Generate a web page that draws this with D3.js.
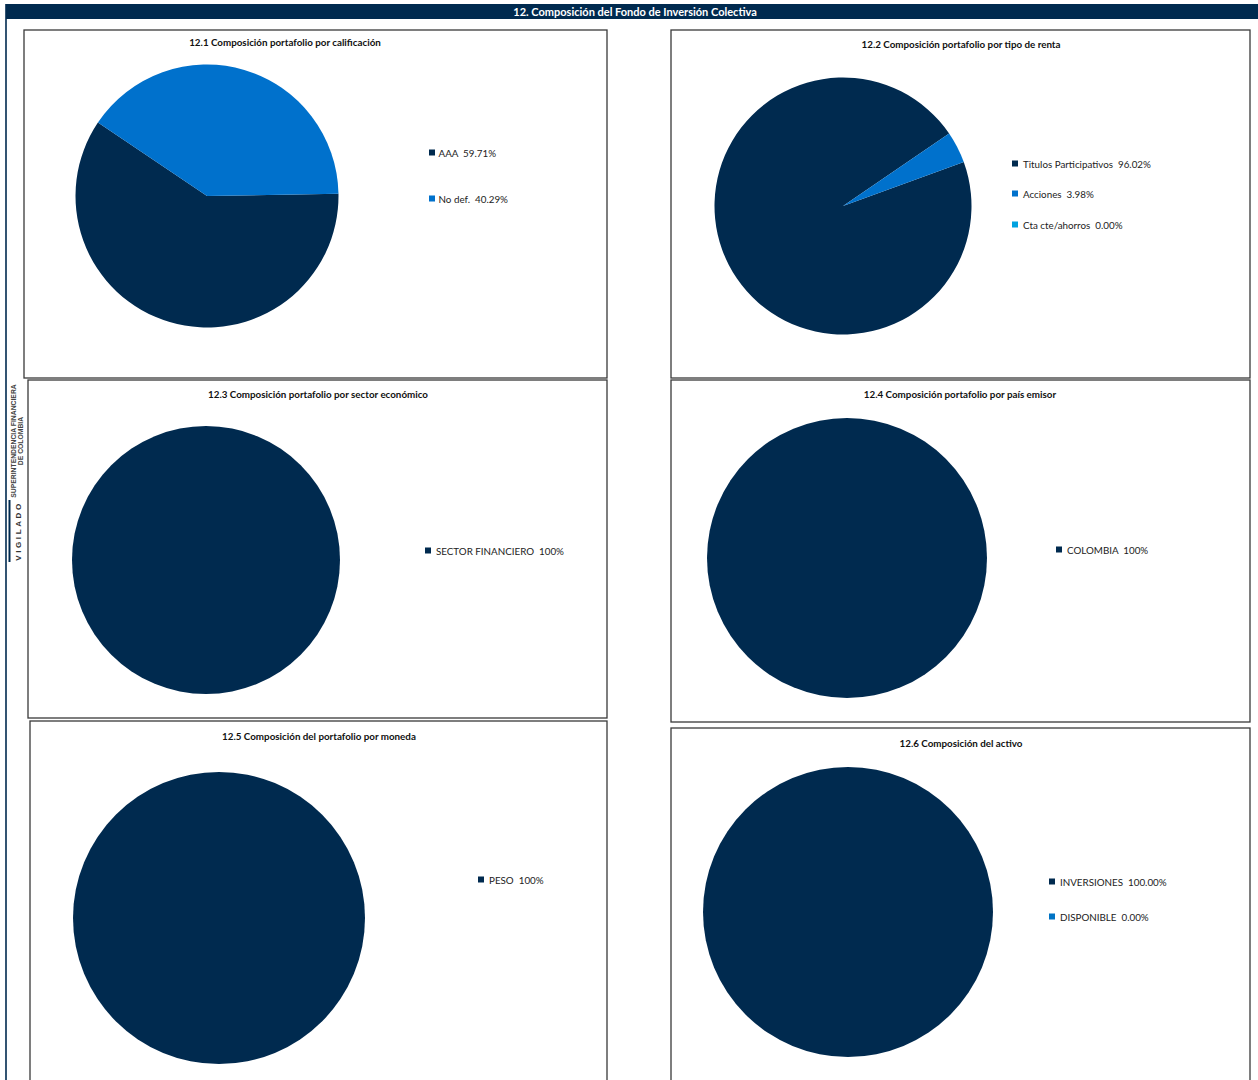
<!DOCTYPE html>
<html>
<head>
<meta charset="utf-8">
<script src="https://cdn.jsdelivr.net/npm/d3@7"></script>
<style>
  html, body { margin: 0; padding: 0; background: #fff; }
  svg { display: block; }
</style>
</head>
<body>
<svg id="chart" width="1258" height="1080"></svg>
<script>
// ---------- DATA ----------
const headerTitle = "12. Composición del Fondo de Inversión Colectiva";
const chartTitles = [
  "12.1 Composición portafolio por calificación",
  "12.2 Composición portafolio por tipo de renta",
  "12.3 Composición portafolio por sector económico",
  "12.4 Composición portafolio por país emisor",
  "12.5 Composición del portafolio por moneda",
  "12.6 Composición del activo"
];
const calificacionLabels = ["AAA", "No def."];
const calificacionValues = [59.71, 40.29];
const rentaLabels = ["Titulos Participativos", "Acciones", "Cta cte/ahorros"];
const rentaValues = [96.02, 3.98, 0.00];
const sectorLabels = ["SECTOR FINANCIERO"];
const sectorValues = [100];
const paisLabels = ["COLOMBIA"];
const paisValues = [100];
const monedaLabels = ["PESO"];
const monedaValues = [100];
const activoLabels = ["INVERSIONES", "DISPONIBLE"];
const activoValues = [100.00, 0.00];
const valueDecimals = [2, 2, 0, 0, 0, 2];

// ---------- STYLE / LAYOUT ----------
const NAVY = "#002a4f";
const BLUE = "#0071cc";
const CYAN = "#00a2e0";
const BLUE2 = "#0073c4";
const FONT = "Lato, 'Open Sans', sans-serif";

const panels = [
  {x: 24, y: 30, w: 583, h: 348, tx: 285, ty: 46, cx: 207, cy: 196, r: 131.5, start: 89,
   lx: 429, ly: [153, 199], colors: [NAVY, BLUE], labels: calificacionLabels, values: calificacionValues},
  {x: 671, y: 30, w: 579, h: 348, tx: 961, ty: 48, cx: 843, cy: 206, r: 128.5, start: 70,
   lx: 1012, ly: [164, 194, 225], colors: [NAVY, BLUE, CYAN], labels: rentaLabels, values: rentaValues},
  {x: 28, y: 380, w: 579, h: 338, tx: 318, ty: 398, cx: 206, cy: 560, r: 134, start: 0,
   lx: 425, ly: [551], colors: [NAVY], labels: sectorLabels, values: sectorValues},
  {x: 671, y: 380, w: 579, h: 342, tx: 960, ty: 398, cx: 847, cy: 558, r: 140, start: 0,
   lx: 1056, ly: [550], colors: [NAVY], labels: paisLabels, values: paisValues},
  {x: 30, y: 721, w: 577, h: 370, tx: 319, ty: 740, cx: 219, cy: 918, r: 146, start: 0,
   lx: 478, ly: [880], colors: [NAVY], labels: monedaLabels, values: monedaValues},
  {x: 671, y: 728, w: 579, h: 370, tx: 961, ty: 747, cx: 848, cy: 912, r: 145, start: 0,
   lx: 1049, ly: [882, 917], colors: [NAVY, BLUE2], labels: activoLabels, values: activoValues}
];

const svg = d3.select("#chart");

// Left navy rule
svg.append("line").attr("x1", 6).attr("x2", 6).attr("y1", 4).attr("y2", 1080)
  .attr("stroke", NAVY).attr("stroke-width", 1.6);

// Header bar
svg.append("rect").attr("x", 6).attr("y", 4).attr("width", 1252).attr("height", 15).attr("fill", NAVY);
svg.append("text").attr("x", 635).attr("y", 15.5).attr("text-anchor", "middle")
  .attr("fill", "#fff").attr("font-family", FONT).attr("font-weight", "bold").attr("font-size", 11)
  .text(headerTitle);

// Vigilado side label
const side = svg.append("g");
side.append("line").attr("x1", 9.5).attr("x2", 9.5).attr("y1", 500).attr("y2", 562)
  .attr("stroke", NAVY).attr("stroke-width", 2);
side.append("text").attr("transform", "translate(20.5,531) rotate(-90)").attr("text-anchor", "middle")
  .attr("font-family", "'Liberation Sans', Arial, sans-serif").attr("font-weight", "bold")
  .attr("font-size", 8).attr("letter-spacing", 2.6).attr("fill", "#333").text("VIGILADO");
side.append("text").attr("transform", "translate(15.5,441) rotate(-90)").attr("text-anchor", "middle")
  .attr("font-family", "'Liberation Sans Narrow', 'Liberation Sans', sans-serif").attr("font-weight", "bold")
  .attr("font-size", 6.8).attr("fill", "#444").text("SUPERINTENDENCIA FINANCIERA");
side.append("text").attr("transform", "translate(23,441) rotate(-90)").attr("text-anchor", "middle")
  .attr("font-family", "'Liberation Sans Narrow', 'Liberation Sans', sans-serif").attr("font-weight", "bold")
  .attr("font-size", 6.8).attr("fill", "#444").text("DE COLOMBIA");

const toRad = d => d * Math.PI / 180;

panels.forEach((p, i) => {
  const g = svg.append("g");
  // panel frame
  g.append("rect").attr("x", p.x).attr("y", p.y).attr("width", p.w).attr("height", p.h)
    .attr("fill", "#fff").attr("stroke", "#3a3a3a").attr("stroke-width", 1.3);
  // title
  g.append("text").attr("x", p.tx).attr("y", p.ty).attr("text-anchor", "middle")
    .attr("font-family", FONT).attr("font-weight", "bold").attr("font-size", 9.8).attr("fill", "#111")
    .text(chartTitles[i]);

  const data = p.labels.map((l, k) => ({label: l, value: p.values[k], color: p.colors[k]}));
  const pie = d3.pie().sort(null).value(d => d.value)
    .startAngle(toRad(p.start)).endAngle(toRad(p.start + 360));
  const arc = d3.arc().innerRadius(0).outerRadius(p.r);
  g.append("g").attr("transform", `translate(${p.cx},${p.cy})`)
    .selectAll("path").data(pie(data).filter(d => d.data.value > 0)).join("path")
    .attr("d", arc).attr("fill", d => d.data.color);

  // legend
  const fmt = d3.format(`.${valueDecimals[i]}f`);
  const leg = g.selectAll("g.leg").data(data).join("g")
    .attr("transform", (d, k) => `translate(${p.lx},${p.ly[k]})`);
  leg.append("rect").attr("x", 0).attr("y", -3.5).attr("width", 6).attr("height", 6).attr("fill", d => d.color);
  leg.append("text").attr("x", i === 0 ? 9.5 : 11).attr("y", 3.7)
    .attr("font-family", FONT).attr("font-size", 9.8).attr("fill", "#222")
    .attr("xml:space", "preserve")
    .text(d => `${d.label}  ${fmt(d.value)}%`);
});
</script>
</body>
</html>
